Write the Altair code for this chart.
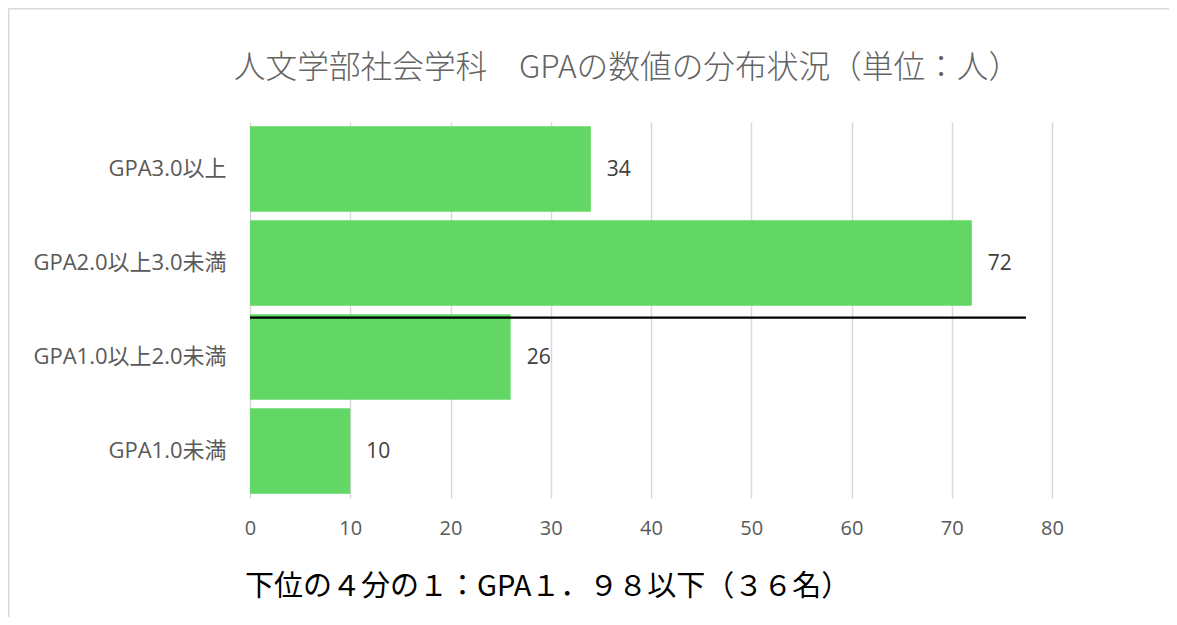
import altair as alt
import pandas as pd

categories = ["GPA3.0以上", "GPA2.0以上3.0未満", "GPA1.0以上2.0未満", "GPA1.0未満"]
counts = [34, 72, 26, 10]
x_ticks = [0, 10, 20, 30, 40, 50, 60, 70, 80]

divider_category = ["GPA1.0以上2.0未満"]
divider_start = [0]
divider_end = [77.4]

title_text = ["人文学部社会学科　GPAの数値の分布状況（単位：人）"]
note_text = ["下位の４分の１：GPA１．９８以下（３６名）"]

FONT = "Noto Sans CJK JP"
LAT = "Open Sans, Noto Sans CJK JP"
W, H = 802, 376

df = pd.DataFrame({"cat": categories, "n": counts})
div_df = pd.DataFrame({"cat": divider_category, "x0": divider_start, "x1": divider_end})
note_df = pd.DataFrame({"t": note_text})
title_df = pd.DataFrame({"t": title_text})

y_enc = alt.Y("cat:N", sort=categories,
              scale=alt.Scale(paddingInner=0.09, paddingOuter=0.045),
              axis=alt.Axis(title=None, domain=False, ticks=False, labelPadding=24,
                            labelFontSize=22, labelColor="#595959", labelFont=LAT,
                            labelLimit=400))
x_enc = alt.X("n:Q", scale=alt.Scale(domain=[0, 80], nice=False),
              axis=alt.Axis(title=None, values=x_ticks, domain=False, ticks=False,
                            grid=True, gridColor="#d9d9d9", gridWidth=1.5,
                            labelFlush=False,
                            labelPadding=20, labelFontSize=20, labelColor="#595959",
                            labelFont=LAT))

base = alt.Chart(df)
bars = base.mark_bar(color="#63d766").encode(x=x_enc, y=y_enc)
labels = base.mark_text(align="left", baseline="middle", dx=16, dy=1, fontSize=21,
                        color="#404040", font=LAT).encode(
    x="n:Q", y=alt.Y("cat:N", sort=categories), text="n:Q")

divider = alt.Chart(div_df).mark_rule(color="black", strokeWidth=2.2).encode(
    x="x0:Q", x2="x1:Q",
    y=alt.Y("cat:N", sort=categories, bandPosition=0.04))

title = alt.Chart(title_df).mark_text(align="center", baseline="middle", fontSize=31.7,
                                      fontWeight=300, color="#636363", font=FONT).encode(
    x=alt.value(377), y=alt.value(-54), text="t:N")

note = alt.Chart(note_df).mark_text(align="left", baseline="middle", fontSize=29,
                                    color="#000000", font=FONT).encode(
    x=alt.value(-5), y=alt.value(465), text="t:N")

frame_left = alt.Chart(note_df).mark_rule(color="#d9d9d9", strokeWidth=1.5).encode(
    x=alt.value(-241.3), y=alt.value(-113.5), y2=alt.value(500))
frame_top = alt.Chart(note_df).mark_rule(color="#d9d9d9", strokeWidth=1.5).encode(
    x=alt.value(-242), x2=alt.value(925), y=alt.value(-113.3))

chart = alt.layer(bars, labels, divider, title, note, frame_left, frame_top).properties(
    width=W, height=H,
    autosize=alt.AutoSizeParams(type="none"),
    padding={"left": 242, "top": 114, "right": 117, "bottom": 119},
).configure(background="white").configure_view(stroke=None)

chart.save("out.html", embed_options={"renderer": "svg", "actions": False})
